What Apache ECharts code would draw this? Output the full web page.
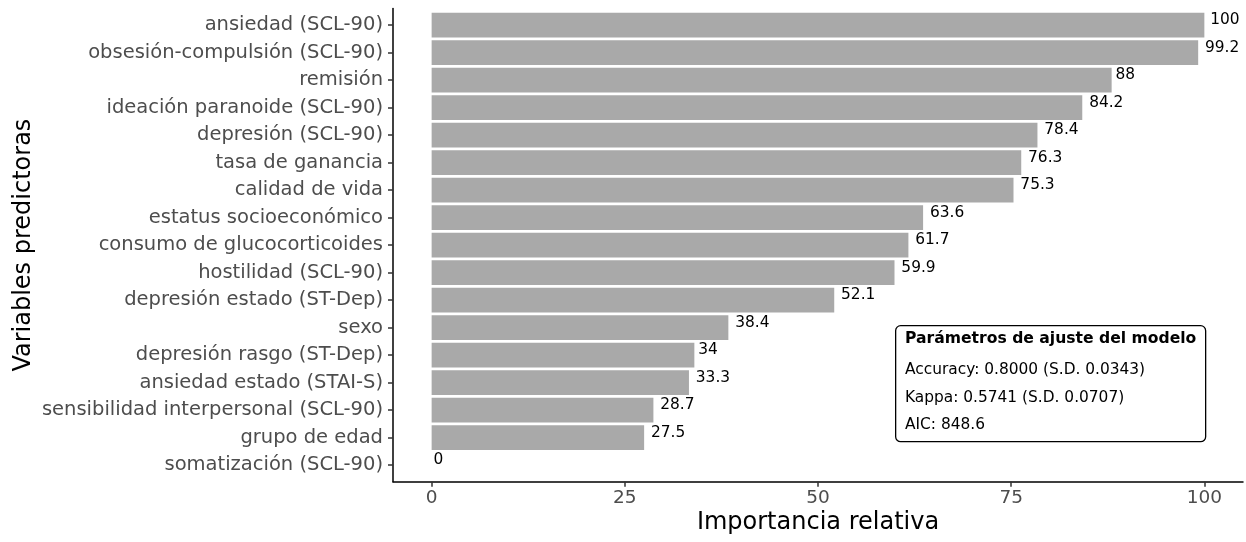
<!DOCTYPE html>
<html>
<head>
<meta charset="utf-8">
<script src="https://cdn.jsdelivr.net/npm/echarts@6/dist/echarts.min.js"></script>
<style>html,body{margin:0;padding:0;background:#fff}#c{width:1246px;height:542px}</style>
</head>
<body>
<div id="c"></div>
<script>
const categories = [
  "ansiedad (SCL-90)", "obsesión-compulsión (SCL-90)", "remisión",
  "ideación paranoide (SCL-90)", "depresión (SCL-90)", "tasa de ganancia",
  "calidad de vida", "estatus socioeconómico", "consumo de glucocorticoides",
  "hostilidad (SCL-90)", "depresión estado (ST-Dep)", "sexo",
  "depresión rasgo (ST-Dep)", "ansiedad estado (STAI-S)",
  "sensibilidad interpersonal (SCL-90)", "grupo de edad", "somatización (SCL-90)"
];
const importance = [100, 99.2, 88, 84.2, 78.4, 76.3, 75.3, 63.6, 61.7, 59.9, 52.1, 38.4, 34, 33.3, 28.7, 27.5, 0];
const importanceLabels = ["100", "99.2", "88", "84.2", "78.4", "76.3", "75.3", "63.6", "61.7", "59.9", "52.1", "38.4", "34", "33.3", "28.7", "27.5", "0"];
const xTicks = [0, 25, 50, 75, 100];
const boxTitle = "Parámetros de ajuste del modelo";
const boxLines = ["Accuracy: 0.8000 (S.D. 0.0343)", "Kappa: 0.5741 (S.D. 0.0707)", "AIC: 848.6"];

const FONT = "DejaVu Sans";
const positions = categories.map((_, i) => i + 1);
const seriesData = importance.map((v, i) => [v, i + 1, i]);

const LBL_FONT = "15.4px '" + FONT + "'";
const measureCtx = document.createElement('canvas').getContext('2d');
measureCtx.font = LBL_FONT;

const chart = echarts.init(document.getElementById('c'), null, {renderer: 'canvas'});
chart.setOption({
  animation: false,
  backgroundColor: '#ffffff',
  grid: {left: 393, right: 3, top: 8.5, bottom: 60.3, containLabel: false},
  xAxis: {
    type: 'value', min: -5, max: 105,
    name: 'Importancia relativa', nameLocation: 'middle', nameGap: 29, nameMoveOverlap: false,
    nameTextStyle: {fontFamily: FONT, fontSize: 24, color: '#000'},
    axisLine: {show: true, onZero: false, lineStyle: {color: '#000', width: 1.5}},
    axisTick: {show: true, length: 5, lineStyle: {color: '#333', width: 1.5}, customValues: xTicks},
    axisLabel: {fontFamily: FONT, fontSize: 18.5, color: '#4D4D4D', margin: 7, customValues: xTicks},
    splitLine: {show: false}
  },
  yAxis: {
    type: 'value', min: 0.4, max: 17.6, inverse: true,
    name: 'Variables predictoras', nameLocation: 'middle', nameGap: 357, nameRotate: 90, nameMoveOverlap: false,
    nameTextStyle: {fontFamily: FONT, fontSize: 24, color: '#000'},
    axisLine: {show: true, onZero: false, lineStyle: {color: '#000', width: 1.5}},
    axisTick: {show: true, length: 5, lineStyle: {color: '#333', width: 1.5}, customValues: positions},
    axisLabel: {
      fontFamily: FONT, fontSize: 19.5, color: '#4D4D4D', margin: 10, customValues: positions,
      formatter: v => categories[Math.round(v) - 1] || ''
    },
    splitLine: {show: false}
  },
  series: [{
    type: 'custom',
    data: seriesData,
    encode: {x: 0, y: 1},
    clip: false,
    renderItem: function (params, api) {
      const v = api.value(0), p = api.value(1), idx = api.value(2);
      const start = api.coord([0, p]);
      const end = api.coord([v, p]);
      const h = api.size([0, 0.9])[1];
      const txt = importanceLabels[idx];
      const w = measureCtx.measureText(txt).width;
      const children = [];
      if (v > 0) {
        children.push({
          type: 'rect',
          shape: {x: start[0], y: start[1] - h / 2, width: end[0] - start[0], height: h},
          style: {fill: '#A9A9A9'}
        });
      }
      children.push({
        type: 'text',
        style: {
          x: end[0] + 0.2 * w, y: end[1] - 5, text: txt,
          font: LBL_FONT, fill: '#000',
          textAlign: 'left', textVerticalAlign: 'middle'
        }
      });
      return {type: 'group', children: children};
    }
  }],
  graphic: [
    {type: 'rect', left: 895, top: 325, shape: {width: 310, height: 116, r: 5},
     style: {fill: '#fff', stroke: '#000', lineWidth: 1.3}, z: 10},
    {type: 'text', left: 905, top: 331, z: 11,
     style: {text: boxTitle, font: "bold 15.6px '" + FONT + "'", fill: '#000'}},
    {type: 'text', left: 905, top: 362, z: 11,
     style: {text: boxLines[0], font: LBL_FONT, fill: '#000'}},
    {type: 'text', left: 905, top: 390, z: 11,
     style: {text: boxLines[1], font: LBL_FONT, fill: '#000'}},
    {type: 'text', left: 905, top: 417, z: 11,
     style: {text: boxLines[2], font: LBL_FONT, fill: '#000'}}
  ]
});
</script>
</body>
</html>
